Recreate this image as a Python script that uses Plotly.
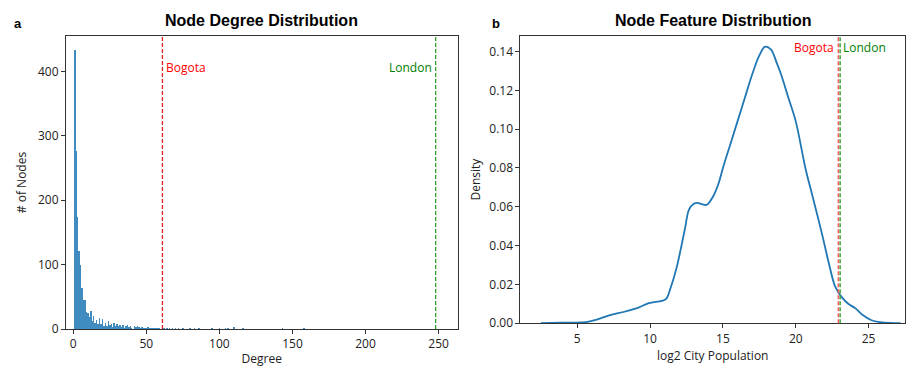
import plotly.graph_objects as go

# ---- Panel a: node degree histogram ----
degrees = list(range(1, 51)) + [51, 52, 53, 54, 55, 56, 57, 58, 59, 62, 64, 66, 68, 70, 72, 75, 80, 83, 86,
                                 95, 100, 104, 106, 110, 116, 143, 158, 185]
counts = [433, 277, 174, 121, 99, 63, 45, 45, 27, 25,
          18, 28, 12, 20, 10, 14, 7, 17, 8, 16,
          5, 10, 4, 12, 6, 8, 3, 9, 5, 7,
          4, 6, 3, 6, 2, 5, 6, 3, 5, 2,
          0, 4, 3, 4, 3, 2, 3, 2, 1, 2,
          3, 2, 2, 1, 2, 1, 2, 1, 1, 2, 1, 2, 1, 1, 2,
          1, 1, 1, 1, 1, 1, 2, 1, 3, 1, 1, 1]
bogota_degree = 61
london_degree = 248

# ---- Panel b: KDE of log2 city population ----
kde_x = [2.5, 4.0, 5.0, 5.6, 6.2, 7.2, 8.3, 9.2, 9.9, 10.8, 11.1, 11.4, 11.8, 12.1, 12.4, 12.67, 13.0, 13.24,
         13.6, 13.9, 14.3, 14.7, 15.0, 15.5, 16.0, 16.5, 17.0, 17.5, 17.9, 18.3, 18.7, 19.0, 19.5, 20.0,
         20.66, 21.2, 21.8, 22.3, 22.7, 23.2, 23.6, 24.1, 24.6, 25.2, 25.8, 26.5, 27.2]
kde_y = [0.0, 0.0002, 0.0003, 0.0005, 0.0015, 0.004, 0.006, 0.008, 0.0103, 0.0115, 0.0125, 0.018, 0.028,
         0.038, 0.049, 0.0585, 0.0615, 0.062, 0.0612, 0.061, 0.065, 0.072, 0.080, 0.092, 0.104, 0.116,
         0.128, 0.138, 0.1425, 0.141, 0.134, 0.128, 0.116, 0.104, 0.080, 0.064, 0.046, 0.030, 0.019,
         0.013, 0.010, 0.0076, 0.0042, 0.0015, 0.0005, 0.0001, 0.0]
bogota_pop = 22.93
london_pop = 23.05

tick_font = dict(family="Open Sans", size=12, color="#222")
axis_common = dict(showline=True, linecolor="#333", linewidth=1, mirror=True, ticks="outside",
                   ticklen=4, tickcolor="#333", showgrid=False, zeroline=False, tickfont=tick_font)
title_font = dict(family="Open Sans", size=12, color="#222")

fig = go.Figure()
fig.add_trace(go.Bar(x=degrees, y=counts, width=1, xaxis="x", yaxis="y",
                     marker=dict(color="rgba(31,119,180,0.85)", line=dict(width=0)),
                     showlegend=False))
fig.add_trace(go.Scatter(x=kde_x, y=kde_y, mode="lines", xaxis="x2", yaxis="y2",
                         line=dict(color="#1f77b4", width=1.8, shape="spline"), showlegend=False))

fig.update_layout(
    width=908, height=367, margin=dict(l=66, r=2, t=36, b=33),
    paper_bgcolor="white", plot_bgcolor="white", bargap=0,
    xaxis=dict(domain=[0, 0.4667], range=[-5, 263], tickvals=[0, 50, 100, 150, 200, 250],
               title=dict(text="Degree", font=title_font, standoff=4), **axis_common),
    yaxis=dict(domain=[0, 1], range=[0, 455], tickvals=[0, 100, 200, 300, 400],
               title=dict(text="# of Nodes", font=title_font, standoff=8), **axis_common),
    xaxis2=dict(domain=[0.5417, 1], range=[1.1, 27.5], tickvals=[5, 10, 15, 20, 25], anchor="y2",
                title=dict(text="log2 City Population", font=title_font, standoff=4), **axis_common),
    yaxis2=dict(domain=[0.02, 1], range=[0, 0.148], tickvals=[0, 0.02, 0.04, 0.06, 0.08, 0.10, 0.12, 0.14],
                tickformat=".2f", anchor="x2",
                title=dict(text="Density", font=title_font, standoff=6), **axis_common),
)

dash = "4px,2px"
shapes = [
    dict(type="line", xref="x", yref="y domain", x0=bogota_degree, x1=bogota_degree, y0=0, y1=1,
         line=dict(color="#e32020", width=1.3, dash=dash)),
    dict(type="line", xref="x", yref="y domain", x0=london_degree, x1=london_degree, y0=0, y1=1,
         line=dict(color="#2ca02c", width=1.3, dash=dash)),
    dict(type="line", xref="x2", yref="y2 domain", x0=bogota_pop, x1=bogota_pop, y0=0, y1=1,
         line=dict(color="#ff5a5a", width=1.6, dash=dash)),
    dict(type="line", xref="x2", yref="y2 domain", x0=london_pop, x1=london_pop, y0=0, y1=1,
         line=dict(color="#4caf4c", width=1.6, dash=dash)),
]
fig.update_layout(shapes=shapes)


def px_x(p):
    return (p - 66) / 840.0


def px_y(p):
    return (367 - 33 - p) / 298.0


ann_font = dict(family="Open Sans", size=12)
annotations = [
    dict(text="Bogota", x=bogota_degree, y=px_y(68), xref="x", yref="paper", xanchor="left", yanchor="middle",
         xshift=2, showarrow=False, font=dict(color="red", **ann_font)),
    dict(text="London", x=london_degree, y=px_y(68), xref="x", yref="paper", xanchor="right", yanchor="middle",
         xshift=-2, showarrow=False, font=dict(color="green", **ann_font)),
    dict(text="Bogota", x=bogota_pop, y=px_y(48), xref="x2", yref="paper", xanchor="right", yanchor="middle",
         xshift=-2, showarrow=False, font=dict(color="red", **ann_font)),
    dict(text="London", x=london_pop, y=px_y(48), xref="x2", yref="paper", xanchor="left", yanchor="middle",
         xshift=1, showarrow=False, font=dict(color="green", **ann_font)),
    dict(text="<b>Node Degree Distribution</b>", x=px_x(262), y=px_y(20), xref="paper", yref="paper",
         xanchor="center", yanchor="middle", showarrow=False,
         font=dict(family="Liberation Sans", size=16, color="black")),
    dict(text="<b>Node Feature Distribution</b>", x=px_x(714), y=px_y(20), xref="paper", yref="paper",
         xanchor="center", yanchor="middle", showarrow=False,
         font=dict(family="Liberation Sans", size=16, color="black")),
    dict(text="<b>a</b>", x=px_x(18), y=px_y(23), xref="paper", yref="paper",
         xanchor="center", yanchor="middle", showarrow=False,
         font=dict(family="Liberation Sans", size=13, color="black")),
    dict(text="<b>b</b>", x=px_x(497), y=px_y(23), xref="paper", yref="paper",
         xanchor="center", yanchor="middle", showarrow=False,
         font=dict(family="Liberation Sans", size=13, color="black")),
]
fig.update_layout(annotations=annotations)

fig.write_html("out.html")
